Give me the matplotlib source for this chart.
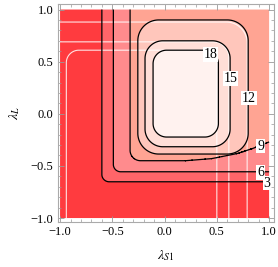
import numpy as np
import matplotlib
matplotlib.use("Agg")
import matplotlib.pyplot as plt
from matplotlib.ticker import FixedLocator, MultipleLocator, FuncFormatter

# contour levels and the (rounded) region each level encloses
levels = [3, 6, 9, 12, 15, 18]
box_left = [-0.60, -0.49, -0.33, -0.256, -0.187, -0.11]
box_right = [1.6, 1.6, 1.6, 0.80, 0.627, 0.515]
box_bottom = [-0.652, -0.556, -0.45, -0.386, -0.316, -0.223]
box_top = [1.6, 1.6, 1.6, 0.90, 0.70, 0.61]
box_radius = [0.07, 0.07, 0.10, 0.20, 0.17, 0.13]

# the 9 contour lifts towards the right edge
rise9_x = [0.20, 0.45, 0.70, 0.85, 1.00]
rise9_y = [-0.45, -0.43, -0.38, -0.33, -0.27]

# white guide curves (U shaped, open at the bottom)
white_left = [-0.94, -1.20, -1.45]
white_right = [0.50, 0.615, 0.79]
white_top = [0.61, 0.69, 0.88]
white_radius = [0.12, 0.15, 0.20]

band_colors = ["#ff3b3f", "#ff6569", "#ff8b8d", "#ffa493",
               "#ffc6bb", "#ffded7", "#fff2ef"]

tick_vals = [-1.0, -0.5, 0.0, 0.5, 1.0]


def rounded_box(X, Y, x0, x1, y0, y1, r):
    cx, cy = (x0 + x1) / 2, (y0 + y1) / 2
    hx, hy = (x1 - x0) / 2 - r, (y1 - y0) / 2 - r
    qx = np.abs(X - cx) - hx
    qy = np.abs(Y - cy) - hy
    outside = np.hypot(np.maximum(qx, 0), np.maximum(qy, 0))
    inside = np.minimum(np.maximum(qx, qy), 0)
    return outside + inside - r


xs = np.linspace(-1, 1, 801)
X, Y = np.meshgrid(xs, xs)

# build a field whose level-k contour sits on box k
eps = 0.02
F = np.full_like(X, 1.5)
for k in range(len(levels)):
    s = rounded_box(X, Y, box_left[k], box_right[k], box_bottom[k],
                    box_top[k], box_radius[k])
    if levels[k] == 9:
        s = np.maximum(s, np.interp(X, rise9_x, rise9_y) - Y)
    F += 3 * (np.clip(-s / eps, -0.5, 0.5) + 0.5)

plt.rcParams["font.family"] = ["Liberation Serif", "DejaVu Serif"]
plt.rcParams["mathtext.fontset"] = "stix"

fig = plt.figure(figsize=(2.78, 2.67), dpi=100)
ax = fig.add_axes([0.207, 0.1685, 0.779, 0.8165])

ax.contourf(X, Y, F, levels=[0] + levels + [21], colors=band_colors,
            antialiased=True)

for k in range(len(white_left)):
    w = rounded_box(X, Y, white_left[k], white_right[k], -3.0,
                    white_top[k], white_radius[k])
    ax.contour(X, Y, w, levels=[0], colors="white", linewidths=0.8, alpha=0.85)

ax.contour(X, Y, F, levels=levels, colors="black", linewidths=0.9)

# contour labels (upright on white boxes, like the original)
label_x = [0.98, 0.92, 0.92, 0.81, 0.63, 0.44]
label_y = [-0.665, -0.56, -0.31, 0.15, 0.34, 0.57]
for lv, lx, ly in zip(levels, label_x, label_y):
    ax.text(lx, ly, str(lv), fontsize=10, ha="center", va="center",
            zorder=5, bbox=dict(boxstyle="square,pad=0.06", fc="white",
                                ec="none"))

ax.set_xlim(-1.024, 1.048)
ax.set_ylim(-1.038, 1.053)

fmt = FuncFormatter(lambda v, p: f"{v:.1f}".replace("-", "\u2212"))
for axis in (ax.xaxis, ax.yaxis):
    axis.set_major_locator(FixedLocator(tick_vals))
    axis.set_minor_locator(MultipleLocator(0.1))
    axis.set_major_formatter(fmt)

ax.tick_params(which="both", direction="in", top=True, right=True,
               color="#999999", labelsize=9, labelcolor="black")
ax.tick_params(which="major", length=4, width=0.6, pad=3)
ax.tick_params(which="minor", length=2.2, width=0.5)
for sp in ax.spines.values():
    sp.set_color("#aaaaaa")
    sp.set_linewidth(0.8)

ax.set_xlabel(r"$\lambda_{S1}$", fontsize=10, labelpad=7)
ax.set_ylabel(r"$\lambda_{L}$", fontsize=10, labelpad=6)

fig.savefig("out.png", dpi=100)
